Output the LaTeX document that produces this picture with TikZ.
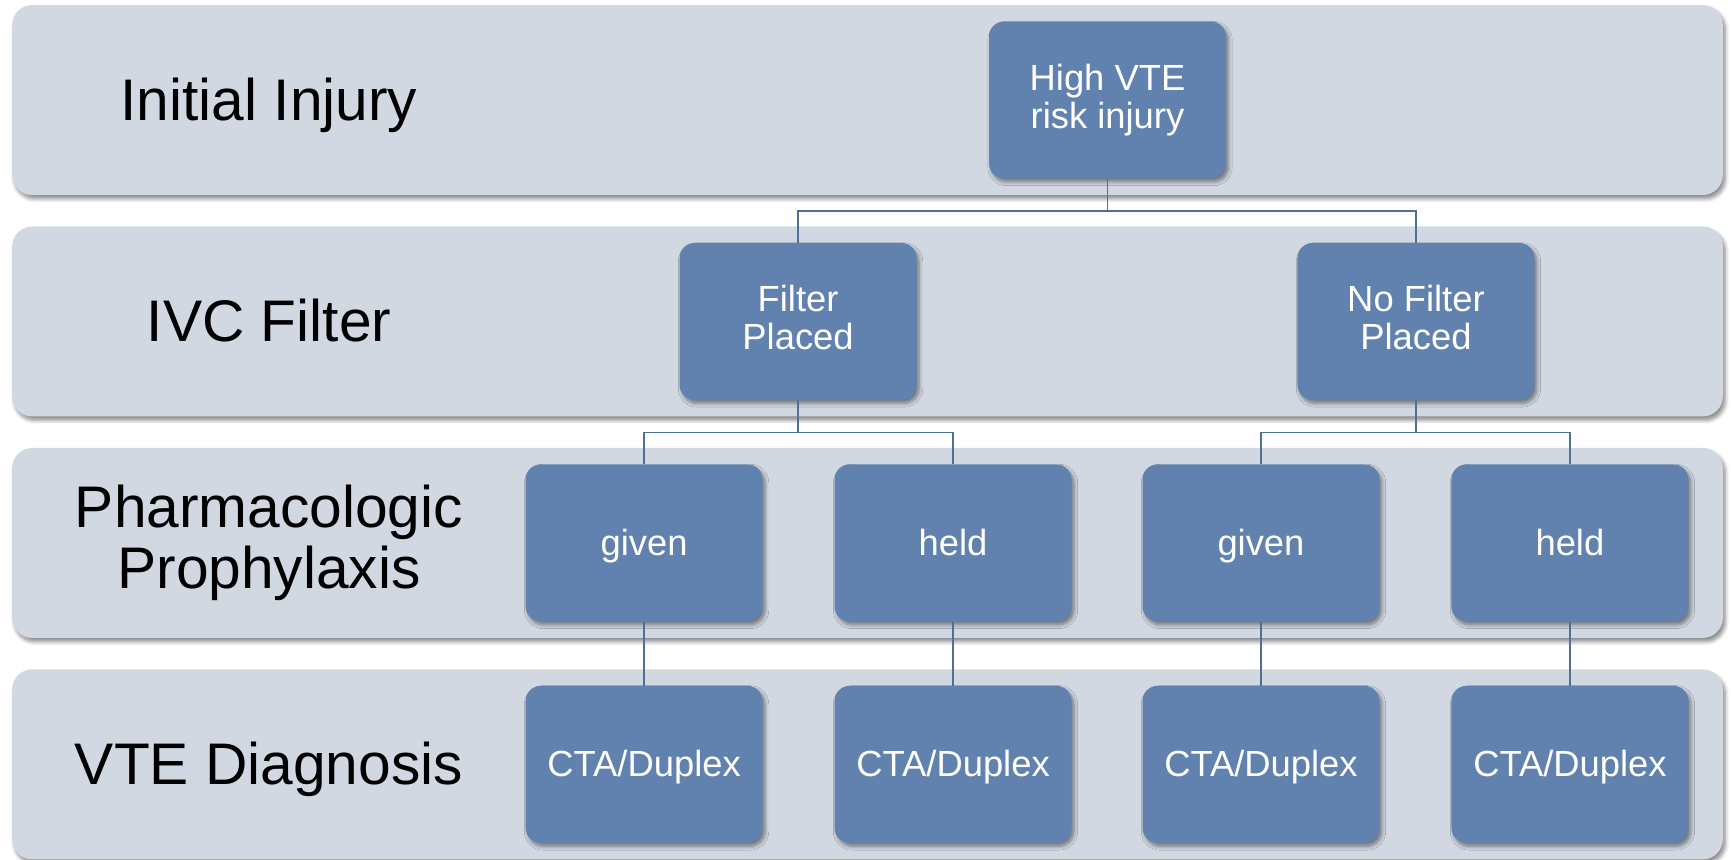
\documentclass[tikz,border=0pt]{standalone}
\usepackage{fontspec}
\setmainfont{Liberation Sans}
\usepackage{tikz}
\usetikzlibrary{shadows.blur}
\definecolor{bandgray}{RGB}{209,216,226}
\definecolor{boxblue}{RGB}{97,130,174}
\definecolor{lineblue}{RGB}{79,111,153}
\newcommand{\linestrut}{\rule[-0.212em]{0pt}{1.117em}}
\tikzstyle{band} = [rectangle, rounded corners=0.4cm, minimum width=34.22cm, minimum height=3.8cm, fill=bandgray, blur shadow={shadow xshift=0.05cm, shadow yshift=-0.08cm, shadow blur steps=6, shadow opacity=45}]
\tikzstyle{rowlabel} = [align=center, text=black, font=\fontsize{33.4pt}{34.5pt}\selectfont, execute at begin node=\linestrut, execute at end node=\linestrut]
\tikzstyle{process} = [rectangle, rounded corners=0.3cm, minimum width=4.74cm, minimum height=3.14cm, align=center, text=white, fill=boxblue, font=\fontsize{20.7pt}{21.8pt}\selectfont, execute at begin node=\linestrut, execute at end node=\linestrut, blur shadow={shadow xshift=0.05cm, shadow yshift=-0.07cm, shadow blur steps=6, shadow opacity=45}]
\tikzstyle{link} = [draw=lineblue, line width=0.9pt]

\begin{document}
\begin{tikzpicture}[x=0.02cm, y=-0.02cm, node distance=4.43cm]
      \useasboundingbox (0,0) rectangle (1731,859);
      % bands
      \node (band1) [band] at (867.5,100) {};
      \node (band2) [band, below of=band1] {};
      \node (band3) [band, below of=band2] {};
      \node (band4) [band, below of=band3] {};
      \node (lab1) [rowlabel] at (269,100) {Initial Injury};
      \node (lab2) [rowlabel, below of=lab1] {IVC Filter};
      \node (lab3) [rowlabel, below of=lab2] {Pharmacologic\\Prophylaxis};
      \node (lab4) [rowlabel, below of=lab3] {VTE Diagnosis};
      % tree
      \node (injury) [process] at (1107.5,100) {High VTE\\risk injury};
      \node (fp) [process, below of=injury, xshift=-6.19cm] {Filter\\Placed};
      \node (nfp) [process, below of=injury, xshift=6.17cm] {No Filter\\Placed};
      \node (fpgiven) [process, below of=fp, xshift=-3.08cm] {given};
      \node (fpheld) [process, below of=fp, xshift=3.10cm] {held};
      \node (nfpgiven) [process, below of=nfp, xshift=-3.10cm] {given};
      \node (nfpheld) [process, below of=nfp, xshift=3.08cm] {held};
      \node (dx1) [process, below of=fpgiven] {CTA/Duplex};
      \node (dx2) [process, below of=fpheld] {CTA/Duplex};
      \node (dx3) [process, below of=nfpgiven] {CTA/Duplex};
      \node (dx4) [process, below of=nfpheld] {CTA/Duplex};
      \draw [link] (injury.south) -- ++(0,32) -| (fp.north);
      \draw [link] (injury.south) -- ++(0,32) -| (nfp.north);
      \draw [link] (fp.south) -- ++(0,32) -| (fpgiven.north);
      \draw [link] (fp.south) -- ++(0,32) -| (fpheld.north);
      \draw [link] (nfp.south) -- ++(0,32) -| (nfpgiven.north);
      \draw [link] (nfp.south) -- ++(0,32) -| (nfpheld.north);
      \draw [link] (fpgiven) -- (dx1);
      \draw [link] (fpheld) -- (dx2);
      \draw [link] (nfpgiven) -- (dx3);
      \draw [link] (nfpheld) -- (dx4);
\end{tikzpicture}
\end{document}
